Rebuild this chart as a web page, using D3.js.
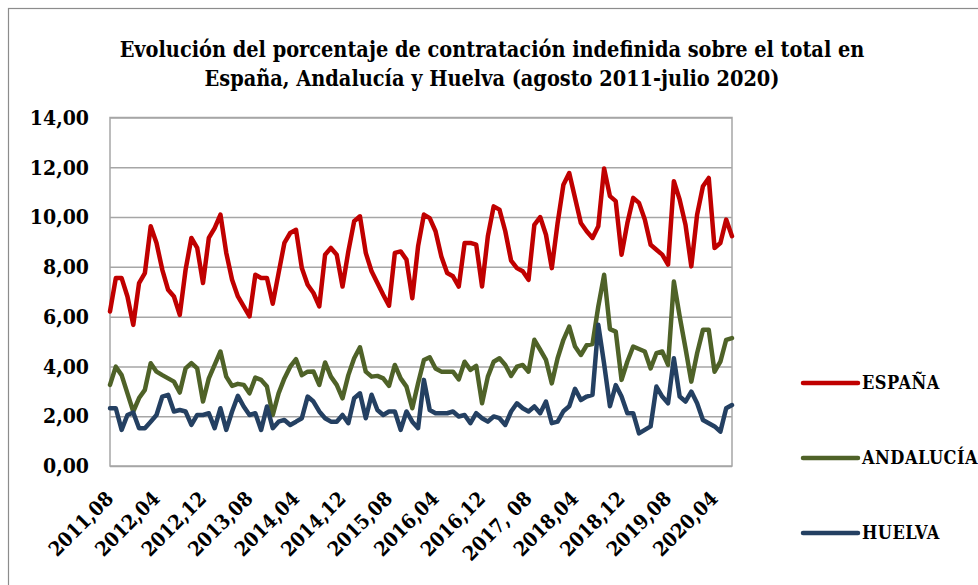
<!DOCTYPE html>
<html>
<head>
<meta charset="utf-8">
<script src="https://cdn.jsdelivr.net/npm/d3@7"></script>
<style>
  body { margin: 0; background: #fff; }
  svg text { font-family: 'DejaVu Serif Condensed', 'DejaVu Serif', serif; font-stretch: condensed; font-weight: bold; fill: #000; }
</style>
</head>
<body>
<div id="chart"></div>
<script>
// month index 0 = 2011,08 ... 107 = 2020,07
var tickIndex = [0, 8, 16, 24, 32, 40, 48, 56, 64, 72, 80, 88, 96, 104];
var tickLabels = ['2011,08', '2012,04', '2012,12', '2013,08', '2014,04', '2014,12', '2015,08',
                  '2016,04', '2016,12', '2017, 08', '2018,04', '2018,12', '2019,08', '2020,04'];
var yTicks = [0, 2, 4, 6, 8, 10, 12, 14];

var espana = [6.21, 7.55, 7.55, 6.81, 5.67, 7.35, 7.75, 9.63, 8.96, 7.88, 7.08, 6.81, 6.07, 7.88, 9.16, 8.76,
  7.35, 9.16, 9.56, 10.10, 8.56, 7.48, 6.81, 6.41, 6.01, 7.68, 7.55, 7.55, 6.52, 7.75, 8.96, 9.36,
  9.49, 7.95, 7.28, 6.95, 6.41, 8.49, 8.76, 8.49, 7.21, 8.62, 9.83, 10.03, 8.56, 7.82, 7.35, 6.88,
  6.44, 8.56, 8.62, 8.29, 6.74, 8.83, 10.10, 9.96, 9.43, 8.42, 7.75, 7.62, 7.21, 8.96, 8.96, 8.89,
  7.21, 9.23, 10.43, 10.30, 9.43, 8.25, 7.95, 7.82, 7.48, 9.69, 10.00, 9.29, 7.95, 9.76, 11.30, 11.77,
  10.77, 9.76, 9.43, 9.16, 9.63, 11.95, 10.84, 10.64, 8.49, 9.76, 10.77, 10.57, 9.90, 8.89, 8.69, 8.49,
  8.09, 11.44, 10.70, 9.69, 8.02, 10.10, 11.24, 11.57, 8.76, 8.96, 9.90, 9.23];

var andalucia = [3.26, 3.99, 3.65, 2.92, 2.19, 2.73, 3.06, 4.13, 3.79, 3.65, 3.52, 3.39, 2.95, 3.92, 4.13, 3.92,
  2.59, 3.52, 4.06, 4.60, 3.59, 3.22, 3.30, 3.26, 2.92, 3.55, 3.46, 3.19, 2.05, 2.92, 3.52, 3.99,
  4.29, 3.65, 3.79, 3.80, 3.26, 4.16, 3.59, 3.26, 2.72, 3.65, 4.33, 4.77, 3.79, 3.59, 3.62, 3.52,
  3.22, 4.06, 3.52, 3.19, 2.32, 3.32, 4.26, 4.37, 3.92, 3.79, 3.79, 3.79, 3.48, 4.19, 3.86, 4.02,
  2.52, 3.59, 4.19, 4.33, 4.06, 3.62, 3.99, 4.06, 3.79, 5.07, 4.67, 4.26, 3.32, 4.33, 5.07, 5.60,
  4.80, 4.46, 4.85, 4.90, 6.41, 7.68, 5.50, 5.40, 3.46, 4.20, 4.80, 4.70, 4.60, 3.92, 4.53, 4.60,
  4.06, 7.41, 6.01, 4.73, 3.39, 4.53, 5.47, 5.47, 3.79, 4.19, 5.07, 5.14];

var huelva = [2.32, 2.32, 1.45, 2.05, 2.15, 1.52, 1.52, 1.78, 2.05, 2.79, 2.86, 2.19, 2.25, 2.19, 1.65, 2.05,
  2.05, 2.12, 1.52, 2.32, 1.45, 2.19, 2.82, 2.39, 2.05, 2.12, 1.45, 2.39, 1.52, 1.78, 1.85, 1.65,
  1.78, 1.92, 2.79, 2.59, 2.19, 1.92, 1.78, 1.78, 2.05, 1.72, 2.72, 2.92, 1.92, 2.86, 2.25, 2.05,
  2.19, 2.19, 1.45, 2.19, 1.78, 1.52, 3.46, 2.25, 2.12, 2.12, 2.12, 2.19, 1.99, 2.05, 1.72, 2.12,
  1.92, 1.78, 1.99, 1.92, 1.65, 2.19, 2.52, 2.32, 2.19, 2.39, 2.12, 2.59, 1.72, 1.78, 2.20, 2.40,
  3.10, 2.65, 2.79, 2.86, 5.67, 4.10, 2.40, 3.25, 2.79, 2.12, 2.12, 1.31, 1.45, 1.59, 3.19, 2.79,
  2.52, 4.33, 2.79, 2.59, 2.99, 2.52, 1.85, 1.72, 1.59, 1.38, 2.32, 2.45];

var seriesNames = ['ESPAÑA', 'ANDALUCÍA', 'HUELVA'];
var seriesColors = ['#C00000', '#4F6228', '#244062'];
var seriesData = [espana, andalucia, huelva];

// plot area
var W = 978, H = 585;
var plotLeft = 110, plotRight = 732, plotTop = 117.5, plotBottom = 466;

var svg = d3.select('#chart').append('svg')
  .attr('width', W)
  .attr('height', H);

// outer chart border
svg.append('rect')
  .attr('x', 8.5).attr('y', 8.5)
  .attr('width', W + 10).attr('height', H + 10)
  .attr('fill', 'none')
  .attr('stroke', '#8c8c8c')
  .attr('stroke-width', 1.2);

// title
var title = svg.append('text')
  .attr('text-anchor', 'middle')
  .style('font-size', '21.5px');
title.append('tspan').attr('x', 492).attr('y', 57)
  .text('Evolución del porcentaje de contratación indefinida sobre el total en');
title.append('tspan').attr('x', 492).attr('y', 86)
  .text('España, Andalucía y Huelva (agosto 2011-julio 2020)');

var xScale = d3.scalePoint()
  .domain(d3.range(espana.length))
  .range([plotLeft, plotRight]);

var yScale = d3.scaleLinear()
  .domain([0, 14])
  .range([plotBottom, plotTop]);

// gridlines
svg.append('g')
  .attr('transform', 'translate(' + plotLeft + ',0)')
  .call(d3.axisLeft(yScale).tickValues(yTicks).tickSize(-(plotRight - plotLeft)).tickFormat(''))
  .call(function(g) {
    g.select('.domain').remove();
    g.selectAll('line').attr('stroke', '#a6a6a6').attr('stroke-width', 1.5);
  });

// plot border
svg.append('rect')
  .attr('x', plotLeft).attr('y', plotTop)
  .attr('width', plotRight - plotLeft).attr('height', plotBottom - plotTop)
  .attr('fill', 'none')
  .attr('stroke', '#a6a6a6')
  .attr('stroke-width', 1.5);

// y labels
svg.append('g')
  .attr('transform', 'translate(' + (plotLeft - 21) + ',0)')
  .call(d3.axisLeft(yScale).tickValues(yTicks).tickSize(0)
    .tickFormat(function(d) { return d3.format('.2f')(d).replace('.', ','); }))
  .call(function(g) {
    g.select('.domain').remove();
    g.selectAll('text')
      .attr('x', 0)
      .style('font-size', '21px')
      .style('font-family', null);
  });

// x labels
var xLabelMap = {};
tickIndex.forEach(function(d, i) { xLabelMap[d] = tickLabels[i]; });

svg.append('g')
  .attr('transform', 'translate(0,' + plotBottom + ')')
  .call(d3.axisBottom(xScale).tickValues(tickIndex).tickSize(0)
    .tickFormat(function(d) { return xLabelMap[d]; }))
  .call(function(g) {
    g.select('.domain').remove();
    g.selectAll('text')
      .attr('text-anchor', 'end')
      .attr('x', 0).attr('y', 0).attr('dy', 0)
      .attr('transform', 'translate(4,34) rotate(-45)')
      .style('font-size', '20px')
      .style('font-family', null);
  });

// lines
var line = d3.line()
  .x(function(d, i) { return xScale(i); })
  .y(function(d) { return yScale(d); });

seriesData.forEach(function(data, s) {
  svg.append('path')
    .datum(data)
    .attr('d', line)
    .attr('fill', 'none')
    .attr('stroke', seriesColors[s])
    .attr('stroke-width', 4.5)
    .attr('stroke-linejoin', 'round')
    .attr('stroke-linecap', 'round');
});

// legend
var legend = svg.append('g')
  .selectAll('g')
  .data(seriesNames)
  .enter()
  .append('g')
  .attr('transform', function(d, i) { return 'translate(803,' + (383 + i * 75) + ')'; });

legend.append('line')
  .attr('x1', 0).attr('x2', 55)
  .attr('stroke', function(d, i) { return seriesColors[i]; })
  .attr('stroke-width', 4.5)
  .attr('stroke-linecap', 'round');

legend.append('text')
  .attr('x', 59)
  .attr('dy', '0.36em')
  .style('font-size', '18px')
  .style('letter-spacing', '0.5px')
  .text(function(d) { return d; });
</script>
</body>
</html>
